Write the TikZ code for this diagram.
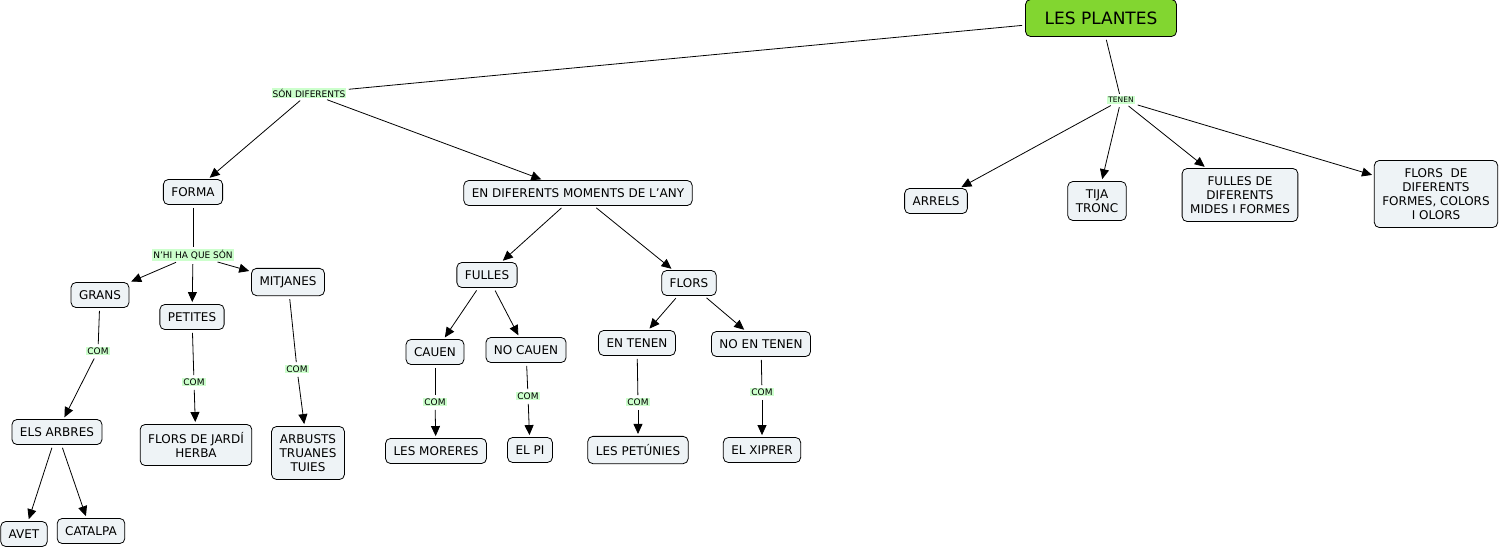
\documentclass[tikz,border=0pt]{standalone}
\usepackage{fontspec}
\setmainfont{DejaVu Sans}
\usetikzlibrary{arrows, arrows.meta}
\usetikzlibrary{graphs}
\usetikzlibrary{positioning}
\definecolor{conceptfill}{RGB}{238,243,246}
\definecolor{rootfill}{RGB}{130,214,48}
\definecolor{linkfill}{RGB}{204,255,204}
\tikzstyle{concept}=[draw, rounded corners=5pt, fill=conceptfill, align=center, inner xsep=8pt, inner ysep=8pt, minimum height=25pt, font=\fontsize{12}{14}\selectfont]
\tikzstyle{root}=[concept, fill=rootfill, minimum height=37pt, minimum width=151pt, font=\fontsize{17}{20}\selectfont]
\tikzstyle{linkword}=[fill=linkfill, inner sep=1pt, font=\fontsize{9}{10}\selectfont]

\begin{document}
\begin{tikzpicture}[x=1pt, y=-1pt, new set=import nodes, line width=0.8pt, >={Triangle[length=10pt,width=9pt]}]
 \useasboundingbox (0,0) rectangle (1504,549);
 \begin{scope}[nodes={set=import nodes}]
      \node [root] (plantes) at (1101,18) {LES PLANTES};
      \node [linkword] (son) at (309,93) {SÓN DIFERENTS};
      \node [linkword, font=\fontsize{7.5}{8}\selectfont] (tenen) at (1121,100) {TENEN};

      % forma
      \node [concept] (forma) at (193,192) {FORMA};
      \node [linkword] (nhi) at (193,255) {N'HI HA QUE SÓN};
      \node [concept] (grans) at (100,295) {GRANS};
      \node [concept] (petites) at (192,317) {PETITES};
      \node [concept] (mitjanes) at (288,282) {MITJANES};
      \node [linkword] (com_g) at (98,351) {COM};
      \node [linkword] (com_p) at (194,382) {COM};
      \node [linkword] (com_m) at (297,369) {COM};
      \node [concept] (arbres) at (57,432) {ELS ARBRES};
      \node [concept] (jardi) at (196,445) {FLORS DE JARDÍ\\HERBA};
      \node [concept] (arbusts) at (308,453) {ARBUSTS\\TRUANES\\TUIES};
      \node [concept] (avet) at (24,534) {AVET};
      \node [concept] (catalpa) at (91,531) {CATALPA};

      % moments de l'any
      \node [concept] (moments) at (578,193) {EN DIFERENTS MOMENTS DE L'ANY};
      \node [concept] (fulles) at (487,275) {FULLES};
      \node [concept] (flors) at (689,283) {FLORS};
      \node [concept] (cauen) at (435,352) {CAUEN};
      \node [concept] (nocauen) at (526,350) {NO CAUEN};
      \node [concept] (entenen) at (637,343) {EN TENEN};
      \node [concept] (noentenen) at (761,344) {NO EN TENEN};
      \node [linkword] (com_c) at (435,402) {COM};
      \node [linkword] (com_n) at (528,396) {COM};
      \node [linkword] (com_e) at (638,402) {COM};
      \node [linkword] (com_ne) at (762,392) {COM};
      \node [concept] (moreres) at (436,451) {LES MORERES};
      \node [concept] (pi) at (530,450) {EL PI};
      \node [concept] (petunies) at (638,450) {LES PETÚNIES};
      \node [concept] (xiprer) at (762,450) {EL XIPRER};

      % tenen
      \node [concept] (arrels) at (936,201) {ARRELS};
      \node [concept] (tija) at (1097,201) {TIJA\\TRONC};
      \node [concept] (fulles_m) at (1240,195) {FULLES DE\\DIFERENTS\\MIDES I FORMES};
      \node [concept] (flors_f) at (1436,194) {FLORS~~DE\\DIFERENTS\\FORMES, COLORS\\I OLORS};
  \end{scope}

 \graph [edges={shorten <=3pt, shorten >=2pt}] {
    (import nodes);

    plantes -- {son, tenen},
    son -> {forma, moments},
    tenen -> {arrels, tija, fulles_m, flors_f},

    % forma
    forma -- nhi -> {grans, petites, mitjanes},
    grans -- com_g -> arbres -> {avet, catalpa},
    petites -- com_p -> jardi,
    mitjanes -- com_m -> arbusts,

    % moments
    moments -> {fulles, flors},
    fulles -> {cauen, nocauen},
    flors -> {entenen, noentenen},
    cauen -- com_c -> moreres,
    nocauen -- com_n -> pi,
    entenen -- com_e -> petunies,
    noentenen -- com_ne -> xiprer
    };

\end{tikzpicture}
\end{document}
